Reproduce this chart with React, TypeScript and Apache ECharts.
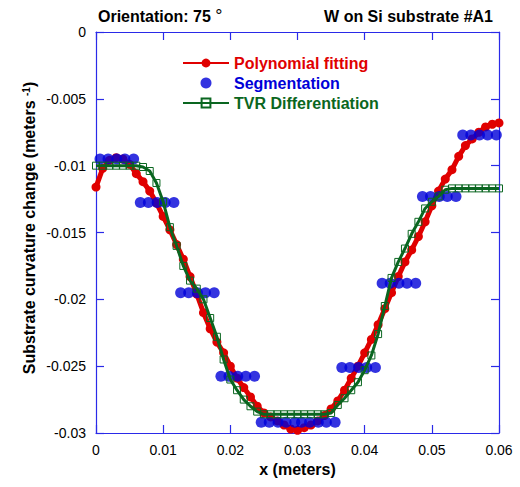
import React, { useEffect, useRef } from "react";
import * as echarts from "echarts";

// x positions (meters) for the polynomial fit and TVR curves
const xGrid = [
  0, 0.001, 0.002, 0.003, 0.004, 0.005, 0.006, 0.007, 0.008, 0.009,
  0.01, 0.011, 0.012, 0.013, 0.014, 0.015, 0.016, 0.017, 0.018, 0.019,
  0.02, 0.021, 0.022, 0.023, 0.024, 0.025, 0.026, 0.027, 0.028, 0.029,
  0.03, 0.031, 0.032, 0.033, 0.034, 0.035, 0.036, 0.037, 0.038, 0.039,
  0.04, 0.041, 0.042, 0.043, 0.044, 0.045, 0.046, 0.047, 0.048, 0.049,
  0.05, 0.051, 0.052, 0.053, 0.054, 0.055, 0.056, 0.057, 0.058, 0.059,
  0.06,
];

// Polynomial fitting of the curvature change
const polyFit = [
  -0.0116, -0.0102, -0.0096, -0.0094, -0.0095, -0.0099, -0.0106, -0.0112, -0.0119, -0.0128,
  -0.0138, -0.0148, -0.0159, -0.017, -0.0183, -0.0196, -0.021, -0.0222, -0.0232, -0.024,
  -0.025, -0.0259, -0.0266, -0.0273, -0.028, -0.0285, -0.0288, -0.0291, -0.0294, -0.0297,
  -0.0298, -0.0296, -0.0294, -0.0291, -0.0287, -0.0282, -0.0276, -0.0268, -0.0259, -0.025,
  -0.024, -0.023, -0.0219, -0.0207, -0.0195, -0.0183, -0.0172, -0.0163, -0.0153, -0.0142,
  -0.013, -0.0119, -0.011, -0.0103, -0.0093, -0.0085, -0.008, -0.0075, -0.0071, -0.0069,
  -0.0068,
];

// TVR differentiation result
const tvrDiff = [
  -0.01, -0.01, -0.01, -0.01, -0.01, -0.01, -0.01, -0.0101, -0.0104, -0.0113,
  -0.0127, -0.0146, -0.016, -0.0175, -0.0186, -0.0192, -0.02, -0.0214, -0.0228, -0.0245,
  -0.026, -0.0268, -0.0275, -0.028, -0.0284, -0.0286, -0.0286, -0.0286, -0.0286, -0.0286,
  -0.0286, -0.0286, -0.0286, -0.0286, -0.0286, -0.0285, -0.0279, -0.0274, -0.0268, -0.0262,
  -0.0253, -0.0242, -0.0226, -0.0205, -0.0184, -0.0172, -0.0162, -0.0151, -0.0142, -0.0132,
  -0.0127, -0.0123, -0.0118, -0.0117, -0.0117, -0.0117, -0.0117, -0.0117, -0.0117, -0.0117,
  -0.0117,
];

// Segmentation: x positions and the constant level of each segment
const segX = [
  [0.0006, 0.0018, 0.0031, 0.0043, 0.0056],
  [0.0066, 0.0078, 0.0091, 0.0103, 0.0116],
  [0.0126, 0.0138, 0.0151, 0.0163, 0.0176],
  [0.0186, 0.0198, 0.0211, 0.0223, 0.0236],
  [0.0246, 0.0258, 0.0271, 0.0283, 0.0296],
  [0.0306, 0.0318, 0.0331, 0.0343, 0.0356],
  [0.0366, 0.0378, 0.0391, 0.0403, 0.0416],
  [0.0426, 0.0438, 0.0451, 0.0463, 0.0476],
  [0.0486, 0.0498, 0.0511, 0.0523, 0.0536],
  [0.0546, 0.0558, 0.0571, 0.0583, 0.0596],
];
const segLevel = [
  -0.0095, -0.01275, -0.0195, -0.02575, -0.0292, -0.0292, -0.0251, -0.0188, -0.0123, -0.0077,
];

const xTicks = { min: 0, max: 0.06, interval: 0.01 };
const yTicks = { min: -0.03, max: 0, interval: 0.005 };

const FONT = "'Liberation Sans', Arial, sans-serif";
const AXIS_BLUE = "#2a2ae8";
const RED = "#e00000";
const BLUE = "#0000d8";
const GREEN = "#0a6620";

export default function App() {
  const ref = useRef<HTMLDivElement>(null);

  useEffect(() => {
    if (!ref.current) return;
    const chart = echarts.init(ref.current, undefined, { renderer: "svg" });

    const polyData = xGrid.map((x, i) => [x, polyFit[i]]);
    const tvrData = xGrid.map((x, i) => [x, tvrDiff[i]]);
    const segData: number[][] = [];
    segX.forEach((xs, k) => xs.forEach((x) => segData.push([x, segLevel[k]])));

    const axisCommon = {
      axisLine: { show: true, onZero: false, lineStyle: { color: AXIS_BLUE, width: 1.2 } },
      axisTick: { show: true, inside: true, length: 8, lineStyle: { color: AXIS_BLUE, width: 1.2 } },
      splitLine: { show: false },
    };

    chart.setOption({
      animation: false,
      backgroundColor: "#ffffff",
      grid: { left: 96, right: 21, top: 32, bottom: 54 },
      xAxis: [
        {
          type: "value",
          ...xTicks,
          ...axisCommon,
          name: "x (meters)",
          nameLocation: "middle",
          nameGap: 26,
          nameTextStyle: { fontFamily: FONT, fontSize: 16, fontWeight: "bold", color: "#000" },
          axisLabel: { fontFamily: FONT, fontSize: 14, color: "#000", margin: 10 },
        },
        {
          type: "value",
          position: "top",
          ...xTicks,
          ...axisCommon,
          axisLabel: { show: false },
        },
      ],
      yAxis: [
        {
          type: "value",
          ...yTicks,
          ...axisCommon,
          axisLabel: { fontFamily: FONT, fontSize: 14, color: "#000", margin: 10 },
        },
        {
          type: "value",
          position: "right",
          ...yTicks,
          ...axisCommon,
          axisLabel: { show: false },
        },
      ],
      legend: {
        orient: "vertical",
        left: 177,
        top: 50,
        itemWidth: 46,
        itemHeight: 11,
        itemGap: 4,
        textStyle: { fontFamily: FONT, fontSize: 16, fontWeight: "bold" },
        data: [
          { name: "Polynomial fitting", textStyle: { color: RED } },
          { name: "Segmentation", textStyle: { color: BLUE } },
          { name: "TVR Differentiation", textStyle: { color: GREEN } },
        ],
      },
      graphic: [
        {
          type: "text",
          x: 98,
          y: 16,
          style: {
            text: "Orientation: 75 {deg|°}",
            font: `bold 16px ${FONT}`,
            fill: "#000",
            align: "left",
            verticalAlign: "middle",
            rich: {
              deg: {
                fontFamily: FONT,
                fontSize: 18,
                fontWeight: "normal",
                fill: "#000",
                verticalAlign: "top",
              },
            },
          },
        },
        {
          type: "text",
          x: 493,
          y: 16,
          style: {
            text: "W on Si substrate #A1",
            font: `bold 16px ${FONT}`,
            fill: "#000",
            align: "right",
            verticalAlign: "middle",
          },
        },
        {
          type: "text",
          x: 29,
          y: 228,
          rotation: Math.PI / 2,
          style: {
            text: "Substrate curvature change (meters {sup|-1})",
            font: `bold 16px ${FONT}`,
            fill: "#000",
            align: "center",
            verticalAlign: "middle",
            rich: {
              sup: {
                fontFamily: FONT,
                fontSize: 10,
                fontWeight: "bold",
                fill: "#000",
                verticalAlign: "top",
              },
            },
          },
        },
      ],
      series: [
        {
          name: "Polynomial fitting",
          type: "line",
          data: polyData,
          symbol: "circle",
          symbolSize: 9,
          showAllSymbol: true,
          lineStyle: { color: RED, width: 5 },
          itemStyle: { color: RED },
          z: 2,
        },
        {
          name: "Segmentation",
          type: "scatter",
          data: segData,
          symbol: "circle",
          symbolSize: 11,
          itemStyle: { color: BLUE },
          z: 3,
        },
        {
          name: "TVR Differentiation",
          type: "line",
          data: tvrData,
          symbol: "rect",
          symbolSize: 7,
          showAllSymbol: true,
          lineStyle: { color: GREEN, width: 3 },
          itemStyle: { color: "rgba(255,255,255,0)", borderColor: GREEN, borderWidth: 1 },
          z: 4,
        },
      ],
    });

    return () => chart.dispose();
  }, []);

  return (
    <div
      ref={ref}
      style={{ position: "fixed", left: 0, top: 0, width: 520, height: 487, background: "#fff" }}
    />
  );
}
